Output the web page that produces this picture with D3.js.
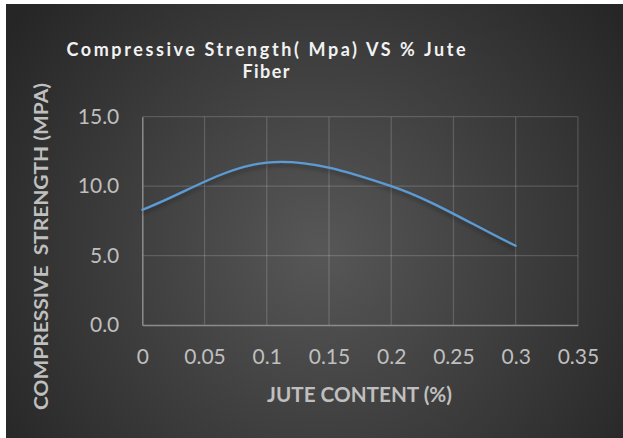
<!DOCTYPE html>
<html><head><meta charset="utf-8">
<script src="https://cdn.jsdelivr.net/npm/d3@7"></script>
<style>html,body{margin:0;padding:0;background:#fff;}svg{display:block;}</style>
</head><body>
<svg id="chart" width="623" height="438"></svg>
<script>
// ---- data ----
const juteContent = [0, 0.1, 0.2, 0.3];
const strength = [8.3, 11.7, 10.0, 5.7];
const xTicks = [0, 0.05, 0.1, 0.15, 0.2, 0.25, 0.3, 0.35];
const yTicks = [0, 5, 10, 15];
const titleLines = ["Compressive Strength( Mpa) VS % Jute", "Fiber"];
const xTitle = "JUTE CONTENT (%)";
const yTitle = "COMPRESSIVE  STRENGTH (MPA)";

const svg = d3.select("#chart");
const W = 623, H = 438;
const plot = {left: 142.3, right: 577.9, top: 116.7, bottom: 325};

// background
const defs = svg.append("defs");
const grad = defs.append("radialGradient").attr("id","bg")
  .attr("gradientUnits","userSpaceOnUse").attr("cx",320).attr("cy",250).attr("r",380);
grad.append("stop").attr("offset","0%").attr("stop-color","#575757");
grad.append("stop").attr("offset","100%").attr("stop-color","#262626");
const sh = defs.append("filter").attr("id","shadow").attr("x","-10%").attr("y","-10%").attr("width","120%").attr("height","140%");
sh.append("feGaussianBlur").attr("in","SourceAlpha").attr("stdDeviation",2).attr("result","b");
sh.append("feOffset").attr("in","b").attr("dy",3).attr("result","o");
sh.append("feComponentTransfer").attr("in","o").attr("result","o2")
  .append("feFuncA").attr("type","linear").attr("slope",0.35);
const m = sh.append("feMerge");
m.append("feMergeNode").attr("in","o2");
m.append("feMergeNode").attr("in","SourceGraphic");

svg.append("rect").attr("x",6).attr("y",4).attr("width",W-6).attr("height",H-4).attr("fill","url(#bg)");

const x = d3.scaleLinear().domain([0,0.35]).range([plot.left, plot.right]);
const y = d3.scaleLinear().domain([0,15]).range([plot.bottom, plot.top]);

// gridlines
const g = svg.append("g");
g.selectAll("line.v").data(xTicks.slice(1)).join("line")
  .attr("x1",d=>x(d)).attr("x2",d=>x(d)).attr("y1",plot.top).attr("y2",plot.bottom)
  .attr("stroke","#ffffff").attr("stroke-opacity",0.16).attr("stroke-width",1.3);
g.selectAll("line.h").data(yTicks.slice(1)).join("line")
  .attr("y1",d=>y(d)).attr("y2",d=>y(d)).attr("x1",plot.left).attr("x2",plot.right)
  .attr("stroke","#ffffff").attr("stroke-opacity",0.16).attr("stroke-width",1.3);

// axes
const xAxis = svg.append("g").attr("transform",`translate(0,${plot.bottom})`)
  .call(d3.axisBottom(x).tickValues(xTicks).tickFormat(d=>String(+d.toFixed(2))).tickSize(0).tickPadding(24));
xAxis.select(".domain").attr("stroke","#8c8c8c").attr("stroke-width",1.5);
xAxis.selectAll("text").attr("fill","#bfbfbf").attr("font-family","Lato, 'Open Sans', sans-serif").attr("font-size",21);

const yAxis = svg.append("g").attr("transform",`translate(${plot.left},0)`)
  .call(d3.axisLeft(y).tickValues(yTicks).tickFormat(d3.format(".1f")).tickSize(0).tickPadding(23));
yAxis.select(".domain").attr("stroke","#8c8c8c").attr("stroke-width",1.5);
yAxis.selectAll("text").attr("fill","#bfbfbf").attr("font-family","Lato, 'Open Sans', sans-serif").attr("font-size",21);

// line
const data = juteContent.map((v,i)=>({x:v, y:strength[i]}));
function ExcelSmooth(ctx){ this._context = ctx; }
ExcelSmooth.prototype = {
  areaStart(){}, areaEnd(){},
  lineStart(){ this._p = []; },
  point(px,py){ this._p.push([+px,+py]); },
  lineEnd(){
    const p = this._p, c = this._context, n = p.length;
    if(!n) return;
    c.moveTo(p[0][0],p[0][1]);
    for(let i=0;i<n-1;i++){
      const a=p[i], b=p[i+1];
      let c1, c2;
      if(i===0) c1=[a[0]+(b[0]-a[0])/3, a[1]+(b[1]-a[1])/3];
      else c1=[a[0]+(b[0]-p[i-1][0])/6, a[1]+(b[1]-p[i-1][1])/6];
      if(i===n-2) c2=[b[0]-(b[0]-a[0])/3, b[1]-(b[1]-a[1])/3];
      else c2=[b[0]-(p[i+2][0]-a[0])/6, b[1]-(p[i+2][1]-a[1])/6];
      c.bezierCurveTo(c1[0],c1[1],c2[0],c2[1],b[0],b[1]);
    }
  }
};
const curveExcel = ctx => new ExcelSmooth(ctx);
svg.append("path").datum(data)
  .attr("d", d3.line().x(d=>x(d.x)).y(d=>y(d.y)).curve(curveExcel))
  .attr("fill","none").attr("stroke","#5b9bd5").attr("stroke-width",2.25)
  .attr("stroke-linecap","round").attr("filter","url(#shadow)");

// titles
const title = svg.append("g").attr("font-family","Lato, 'Open Sans', sans-serif")
  .attr("font-weight","bold").attr("fill","#f2f2f2").attr("font-size",18).attr("text-anchor","middle");
title.append("text").attr("x",266).attr("y",56).attr("textLength",399).attr("lengthAdjust","spacing").text(titleLines[0]);
title.append("text").attr("x",266).attr("y",78).attr("textLength",47).attr("lengthAdjust","spacing").text(titleLines[1]);

svg.append("text").attr("x",359.5).attr("y",401.5).attr("text-anchor","middle")
  .attr("font-family","Lato, 'Open Sans', sans-serif").attr("font-weight","bold").attr("font-size",21)
  .attr("fill","#bfbfbf").attr("textLength",185).attr("lengthAdjust","spacingAndGlyphs").text(xTitle);

svg.append("text").attr("transform","translate(47.5,246.5) rotate(-90)").attr("text-anchor","middle")
  .attr("font-family","Lato, 'Open Sans', sans-serif").attr("font-weight","bold").attr("font-size",19)
  .attr("fill","#bfbfbf").attr("textLength",327).attr("lengthAdjust","spacingAndGlyphs").attr("xml:space","preserve").text(yTitle);
</script>
</body></html>
